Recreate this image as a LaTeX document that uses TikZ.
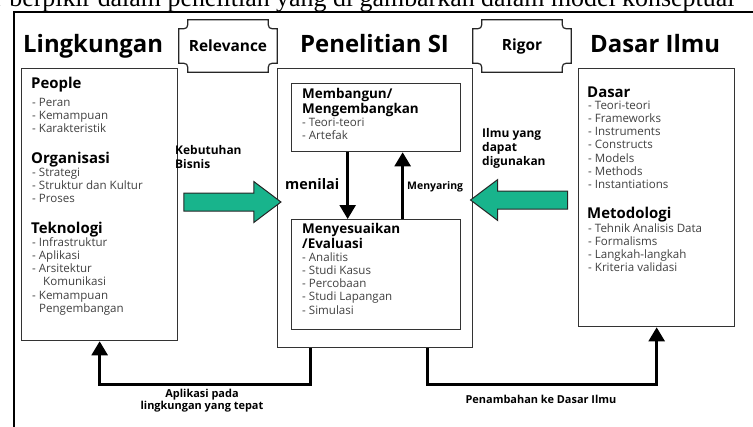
\documentclass[tikz,border=0pt]{standalone}
\usepackage{fontspec}
\setmainfont{Open Sans}
\newfontfamily\serifface{Liberation Serif}
\usetikzlibrary{arrows.meta,shapes.arrows}
\definecolor{arrowgreen}{RGB}{24,180,140}

\begin{document}
\begin{tikzpicture}[x=1bp, y=-1bp,
  box/.style 2 args={draw=black!80, line width=1.3bp, minimum width=#1, minimum height=#2, anchor=north west, inner sep=0},
  header/.style={anchor=base west, inner sep=0, font=\bfseries\fontsize{24}{27}\selectfont},
  tag/.style={inner sep=0, minimum width=98bp, minimum height=52bp, font=\bfseries\fontsize{15.5}{18}\selectfont},
  plaque/.style={draw=black!85, line width=1.2bp},
  heading/.style={anchor=base west, inner sep=0, font=\bfseries\fontsize{15}{18}\selectfont},
  subhead/.style={anchor=north west, inner sep=0, align=left, font=\bfseries\fontsize{13.5}{15.5}\selectfont},
  items/.style={anchor=north west, inner sep=0, align=left, text=black!75, font=\fontsize{11.6}{13.3}\selectfont},
  note/.style={inner sep=0, align=left, font=\bfseries\fontsize{12}{14}\selectfont},
  conn/.style={line width=2.5bp, -{Triangle[length=14bp,width=16bp]}},
  fatarrow/.style={single arrow, draw=black!85, line width=1bp, fill=arrowgreen, minimum height=97bp, minimum width=40bp, single arrow head extend=11.5bp, single arrow tip angle=74, inner xsep=0, inner ysep=8.5bp}]
\useasboundingbox (0,0) rectangle (753,426);
\begin{scope}
  \clip (0,0) rectangle (753,426);
  \node[anchor=base west, inner sep=0, font=\serifface\fontsize{26}{28}\selectfont] (caption) at (-6,6) {r berpikir dalam penelitian yang di gambarkan dalam model konseptual};
  \draw[line width=1.5bp] (14,440) -- (14,12) -- (760,12);
\end{scope}

\node[header] (tLingkungan) at (23,52) {Lingkungan};
\node[header] (tPenelitian) at (300,52) {Penelitian SI};
\node[header] (tDasar) at (590,52) {Dasar Ilmu};

\node[tag] (relevance) at (228,46) {Relevance};
\node[tag] (rigor) at (522,46) {Rigor};
\foreach \t in {relevance,rigor}
  \draw[plaque] ([xshift=9bp]\t.north west) -- ([xshift=-9bp]\t.north east)
    .. controls ([xshift=-9bp,yshift=-9bp]\t.north east) .. ([yshift=-9bp]\t.north east)
    -- ([yshift=9bp]\t.south east)
    .. controls ([xshift=-9bp,yshift=9bp]\t.south east) .. ([xshift=-9bp]\t.south east)
    -- ([xshift=9bp]\t.south west)
    .. controls ([xshift=9bp,yshift=9bp]\t.south west) .. ([yshift=9bp]\t.south west)
    -- ([yshift=-9bp]\t.north west)
    .. controls ([xshift=9bp,yshift=-9bp]\t.north west) .. cycle;

\node[box={156bp}{272bp}] (lingkungan) at (21,68) {};
\node[box={195bp}{279bp}] (penelitian) at (277,68) {};
\node[box={169bp}{68bp}] (membangun) at (291,83) {};
\node[box={169bp}{110bp}] (evaluasi) at (291,219) {};
\node[box={156bp}{258bp}] (dasar) at (578,68) {};

\node[heading] (people) at (31,88) {People};
\node[items] (peopleList) at (32,96.7) {\strut- Peran\\- Kemampuan\\- Karakteristik};
\node[heading] (organisasi) at (31,163) {Organisasi};
\node[items] (organisasiList) at (32,166.7) {\strut- Strategi\\- Struktur dan Kultur\\- Proses};
\node[heading] (teknologi) at (31,233) {Teknologi};
\node[items] (teknologiList) at (32,236.7) {\strut- Infrastruktur\\- Aplikasi\\- Arsitektur\\\hspace*{11bp}Komunikasi\\- Kemampuan\\\hspace*{7bp}Pengembangan};

\node[subhead] (membangunHead) at (302,87.2) {\strut Membangun/\\Mengembangkan};
\node[items] (membangunList) at (302,116.7) {\strut- Teori-teori\\- Artefak};
\node[subhead] (evaluasiHead) at (302,222.2) {\strut Menyesuaikan\\/Evaluasi};
\node[items] (evaluasiList) at (302,251.7) {\strut- Analitis\\- Studi Kasus\\- Percobaan\\- Studi Lapangan\\- Simulasi};

\node[heading] (dasarHead) at (587,97) {Dasar};
\node[items] (dasarList) at (588,99.7) {\strut- Teori-teori\\- Frameworks\\- Instruments\\- Constructs\\- Models\\- Methods\\- Instantiations};
\node[heading] (metodologi) at (587,218) {Metodologi};
\node[items] (metodologiList) at (588,222.7) {\strut- Tehnik Analisis Data\\- Formalisms\\- Langkah-langkah\\- Kriteria validasi};

\node[fatarrow] (kebutuhan) at (226.5,202) {};
\node[fatarrow, shape border rotate=180] (ilmu) at (525,200) {};
\node[note, anchor=north west] (kebutuhanText) at (175,144.2) {\strut Kebutuhan\\Bisnis};
\node[note, anchor=north west] (ilmuText) at (482,127.2) {\strut Ilmu yang\\dapat\\digunakan};

\draw[conn] ([xshift=-28.5bp]membangun.south) -- ([xshift=-28.5bp]evaluasi.north);
\draw[conn] ([xshift=26.5bp]evaluasi.north) -- ([xshift=26.5bp]membangun.south);
\node[anchor=base west, inner sep=0, font=\bfseries\fontsize{14.5}{16}\selectfont] (menilai) at (285,189) {menilai};
\node[anchor=base west, inner sep=0, font=\bfseries\fontsize{10.5}{12}\selectfont] (menyaring) at (407,189) {Menyaring};

\draw[conn] ([xshift=-64.5bp]penelitian.south) -- ++(0,36) -| (lingkungan.south);
\draw[conn] ([xshift=52.5bp]penelitian.south) -- ++(0,36) -| (dasar.south);
\node[note, align=center, anchor=north, font=\bfseries\fontsize{11}{12.5}\selectfont] (aplikasi) at (202,388.2) {\strut Aplikasi pada\\lingkungan yang tepat};
\node[anchor=base, inner sep=0, font=\bfseries\fontsize{11}{12.5}\selectfont] (penambahan) at (541,403) {Penambahan ke Dasar Ilmu};
\end{tikzpicture}
\end{document}
